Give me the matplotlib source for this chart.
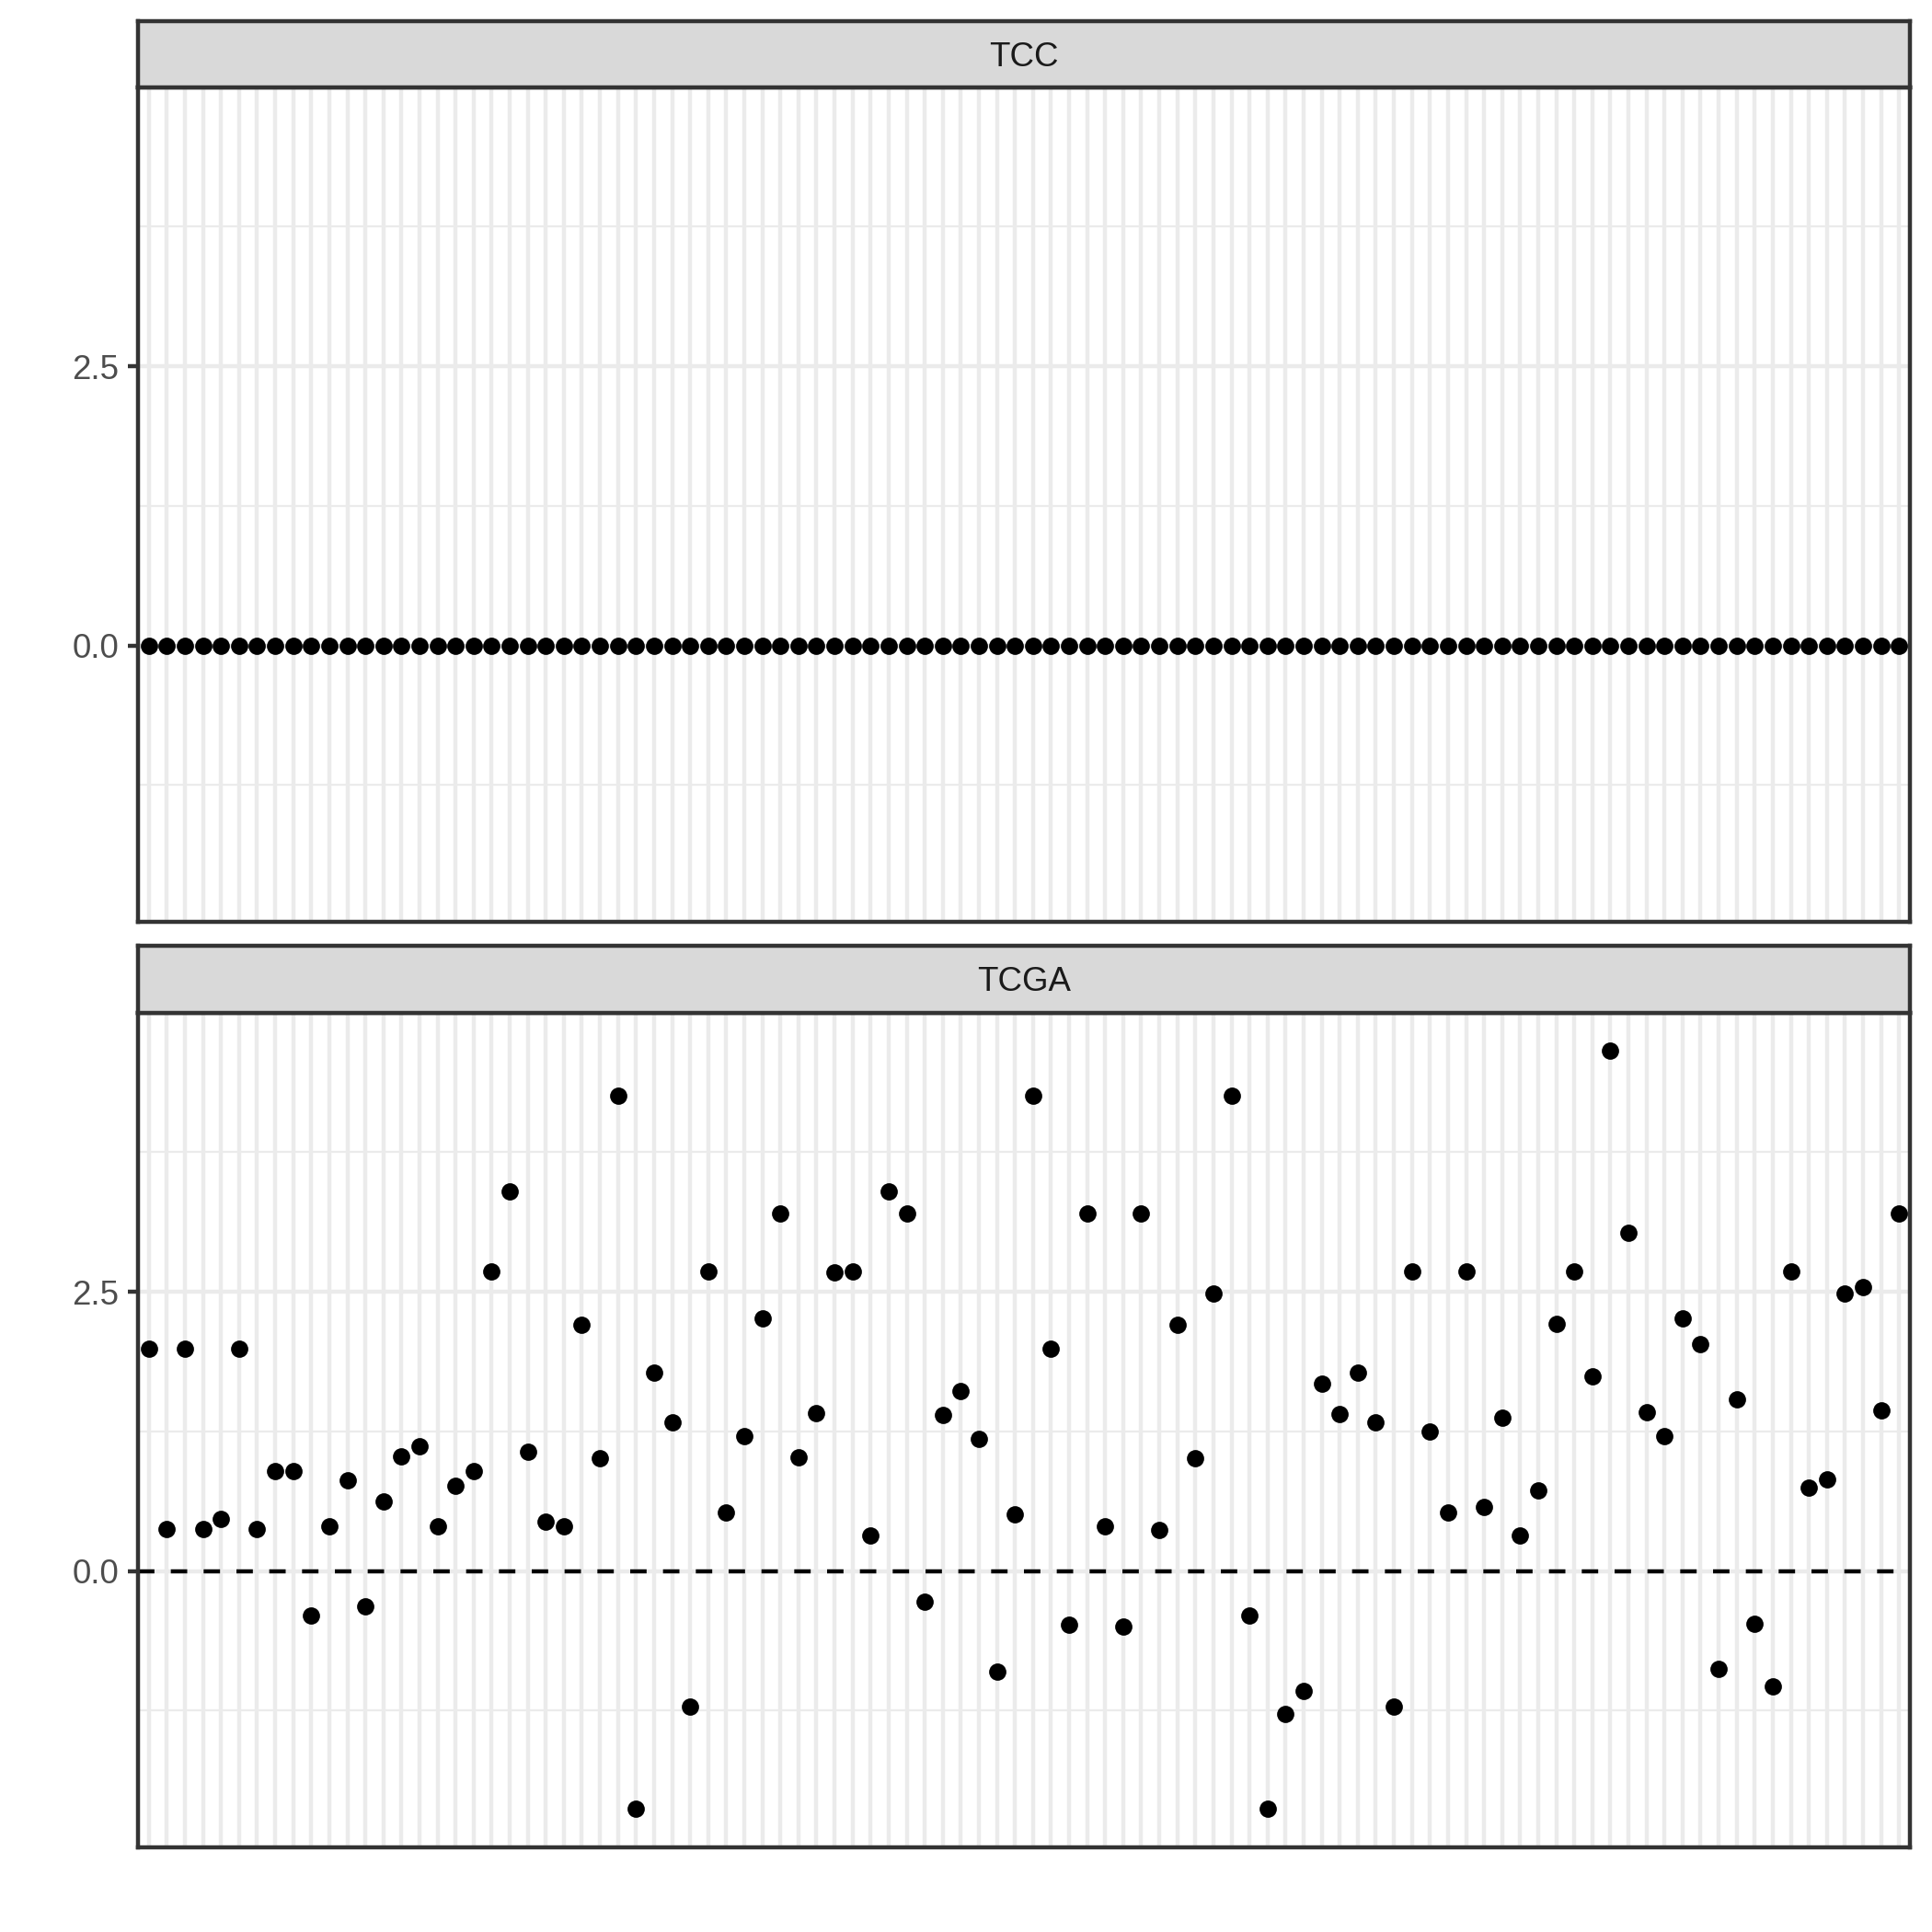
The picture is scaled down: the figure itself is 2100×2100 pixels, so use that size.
import matplotlib
matplotlib.use("Agg")
import matplotlib.pyplot as plt
import numpy as np

plt.rcParams['font.family'] = ['Liberation Sans', 'DejaVu Sans']

# ---------------- data ----------------
facets = ["TCC", "TCGA"]

tcc_values = [
    0.0, 0.0, 0.0, 0.0, 0.0, 0.0, 0.0, 0.0, 0.0, 0.0,
    0.0, 0.0, 0.0, 0.0, 0.0, 0.0, 0.0, 0.0, 0.0, 0.0,
    0.0, 0.0, 0.0, 0.0, 0.0, 0.0, 0.0, 0.0, 0.0, 0.0,
    0.0, 0.0, 0.0, 0.0, 0.0, 0.0, 0.0, 0.0, 0.0, 0.0,
    0.0, 0.0, 0.0, 0.0, 0.0, 0.0, 0.0, 0.0, 0.0, 0.0,
    0.0, 0.0, 0.0, 0.0, 0.0, 0.0, 0.0, 0.0, 0.0, 0.0,
    0.0, 0.0, 0.0, 0.0, 0.0, 0.0, 0.0, 0.0, 0.0, 0.0,
    0.0, 0.0, 0.0, 0.0, 0.0, 0.0, 0.0, 0.0, 0.0, 0.0,
    0.0, 0.0, 0.0, 0.0, 0.0, 0.0, 0.0, 0.0, 0.0, 0.0,
    0.0, 0.0, 0.0, 0.0, 0.0, 0.0, 0.0, 0.0,
]

tcga_values = [
    1.99, 0.375, 1.99, 0.375, 0.468, 1.99, 0.375, 0.897, 0.897, -0.395,
    0.404, 0.809, -0.312, 0.624, 1.028, 1.121, 0.404, 0.760, 0.897, 2.685,
    3.397, 1.067, 0.439, 0.404, 2.203, 1.014, 4.254, -2.130, 1.774, 1.330,
    -1.213, 2.685, 0.526, 1.204, 2.261, 3.197, 1.019, 1.413, 2.671, 2.685,
    0.322, 3.397, 3.197, -0.273, 1.399, 1.608, 1.179, -0.902, 0.507, 4.254,
    1.988, -0.482, 3.197, 0.404, -0.497, 3.197, 0.370, 2.203, 1.009, 2.485,
    4.254, -0.395, -2.130, -1.282, -1.077, 1.681, 1.408, 1.774, 1.330, -1.213,
    2.685, 1.248, 0.526, 2.685, 0.570, 1.374, 0.317, 0.721, 2.212, 2.685,
    1.740, 4.659, 3.031, 1.423, 1.204, 2.261, 2.032, -0.877, 1.540, -0.473,
    -1.033, 2.685, 0.750, 0.824, 2.485, 2.544, 1.438, 3.197,
]

samples = ["S%02d" % (i + 1) for i in range(len(tcga_values))]

# ---------------- style ----------------
GRID = "#EBEBEB"
DARK = "#333333"
LW = 1.07

fig = plt.figure(figsize=(7, 7), dpi=300)
W = 2100.0
L, R = 150 / W, 2076 / W
layout = [(94.6, 1001.6, 23.4), (1100.7, 2007.5, 1028.0)]

allv = np.array(tcc_values + tcga_values)
lo, hi = allv.min(), allv.max()
pad = 0.05 * (hi - lo)
ylim = (lo - pad, hi + pad)

x = np.arange(len(samples))

for (ptop, pbot, stop), name, vals in zip(layout, facets, [tcc_values, tcga_values]):
    ax = fig.add_axes([L, 1 - pbot / W, R - L, (pbot - ptop) / W])
    sax = fig.add_axes([L, 1 - ptop / W, R - L, (ptop - stop) / W])

    ax.set_xlim(-0.6, len(samples) - 1 + 0.6)
    ax.set_ylim(*ylim)
    ax.set_xticks(x)
    ax.set_xticklabels([])
    ax.set_yticks([0.0, 2.5])
    ax.set_yticklabels(["0.0", "2.5"])
    ax.set_yticks([-1.25, 1.25, 3.75], minor=True)
    ax.set_axisbelow(True)
    ax.grid(which="major", color=GRID, lw=LW)
    ax.grid(which="minor", axis="y", color=GRID, lw=LW / 2)
    ax.tick_params(axis="x", which="both", length=0, labelbottom=False)
    ax.tick_params(axis="y", which="major", length=2.74, width=LW, color=DARK,
                   labelsize=8.8, labelcolor="#4D4D4D", pad=2.2)
    ax.tick_params(axis="y", which="minor", length=0)
    for s in ax.spines.values():
        s.set_color(DARK)
        s.set_linewidth(LW)

    if name == "TCGA":
        ax.axhline(0, color="black", lw=LW, ls=(0, (4, 4)), zorder=2)

    ax.plot(x, vals, "o", color="black", ms=4.5, mew=0, zorder=3, clip_on=False)

    sax.set_facecolor("#D9D9D9")
    sax.set_xticks([])
    sax.set_yticks([])
    for s in sax.spines.values():
        s.set_color(DARK)
        s.set_linewidth(LW)
    strip_h = ptop - stop
    cap_half = 0.716 * 8.8 / 72 * 300 / 2
    sax.text(0.5, 0.5 - cap_half / strip_h, name, ha="center", va="baseline",
             fontsize=8.8, color="#1A1A1A", transform=sax.transAxes)

fig.savefig("out.png", dpi=300, facecolor="white")
